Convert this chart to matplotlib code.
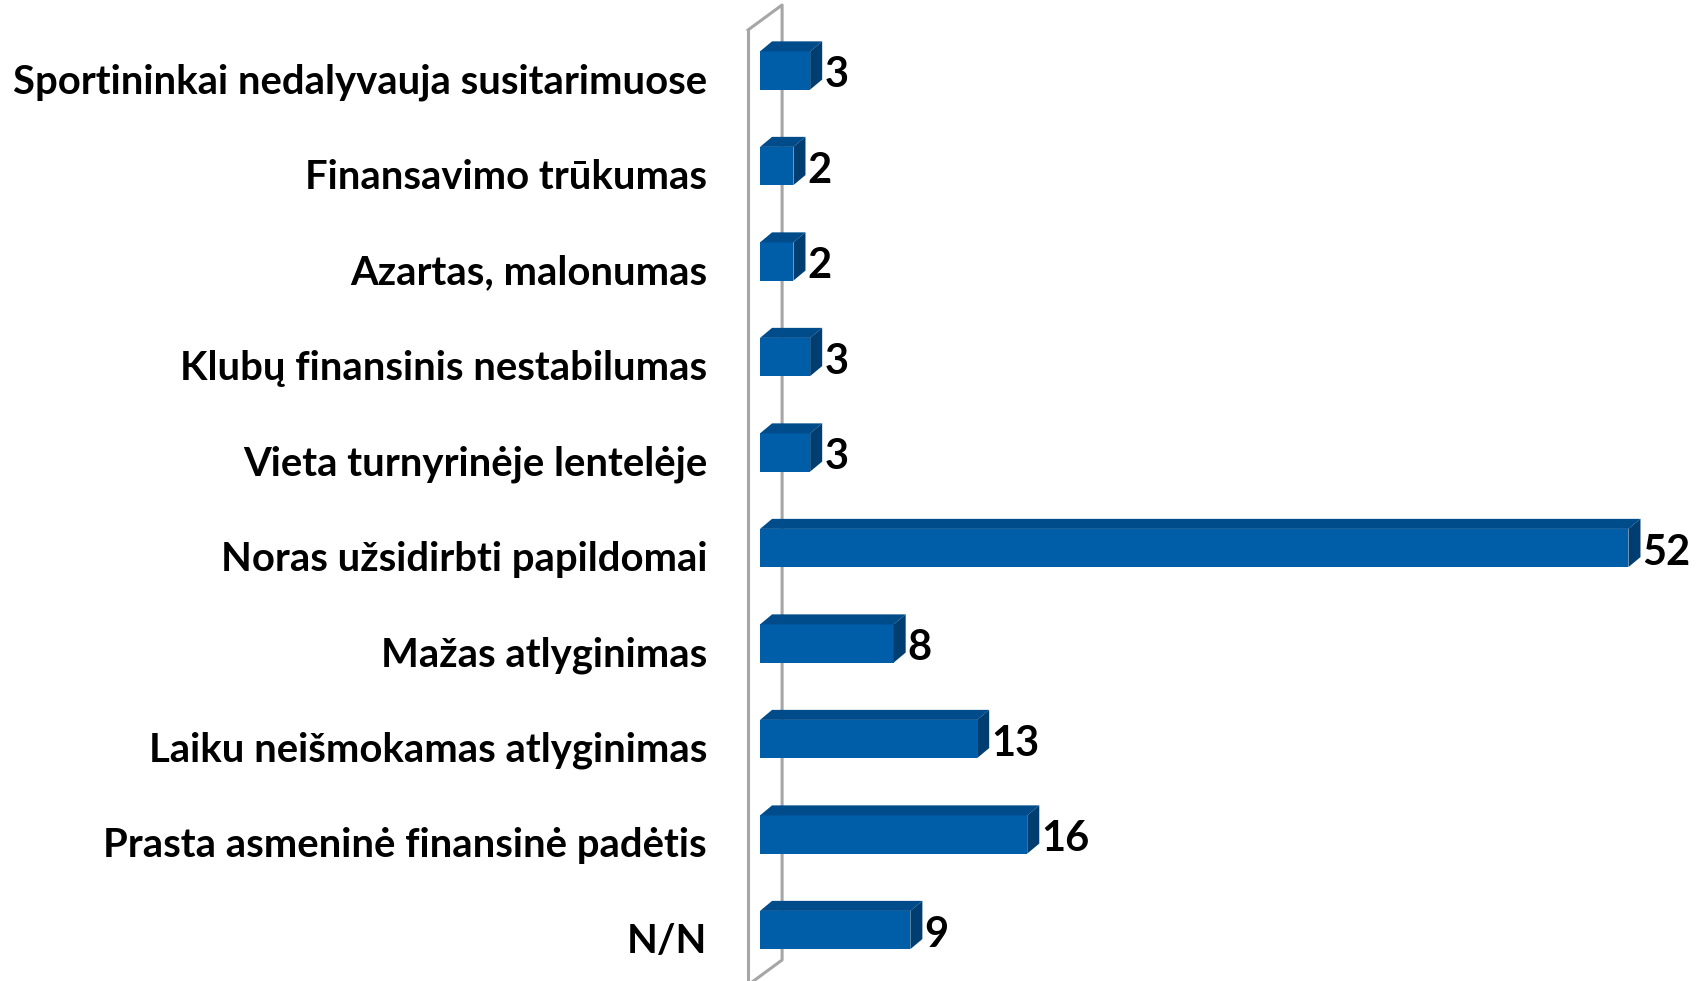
import numpy as np
import matplotlib.pyplot as plt
from matplotlib.patches import Polygon

categories = [
    'Sportininkai nedalyvauja susitarimuose',
    'Finansavimo trūkumas',
    'Azartas, malonumas',
    'Klubų finansinis nestabilumas',
    'Vieta turnyrinėje lentelėje',
    'Noras užsidirbti papildomai',
    'Mažas atlyginimas',
    'Laiku neišmokamas atlyginimas',
    'Prasta asmeninė finansinė padėtis',
    'N/N',
]
values = [3, 2, 2, 3, 3, 52, 8, 13, 16, 9]

FRONT = '#005DA8'
TOP = '#004C8A'
SIDE = '#003D70'

fig = plt.figure(figsize=(17.01, 9.81), dpi=100)
ax = fig.add_axes([735 / 1701, 0, (1701 - 735) / 1701, 1])
ax.set_xlim(-1.5, -1.5 + (1701 - 735) / 16.7)
ax.set_ylim(9.534, -0.738)
ax.axis('off')

# depth of the fake 3d bars, in data units
dx, dy = 0.72, 0.105
h = 0.4

# back wall
wx0, wx1 = -0.72, 1.32
wt0, wt1 = -0.424, -0.686
wb1 = 9.314
ax.plot([wx0, wx1, wx1, wx0], [wt0, wt1, wb1, wb1 + (wt0 - wt1)],
        color='#A6A6A6', lw=2.2, zorder=1)
ax.plot([wx0, wx0], [wt0, 10], color='#A6A6A6', lw=2.2, zorder=1)

y = np.arange(len(categories))
ax.barh(y, values, height=h, color=FRONT, zorder=3)
for yi, v in zip(y, values):
    top = yi - h / 2
    bot = yi + h / 2
    ax.add_patch(Polygon([(0, top), (dx, top - dy), (v + dx, top - dy), (v, top)],
                         closed=True, facecolor=TOP, edgecolor='none', zorder=3))
    ax.add_patch(Polygon([(v, top), (v + dx, top - dy), (v + dx, bot - dy), (v, bot)],
                         closed=True, facecolor=SIDE, edgecolor='none', zorder=3))
    ax.text(v + dx + 0.12, yi + 0.05, str(v), ha='left', va='center',
            fontsize=30, fontweight='bold', family='Lato', color='black', zorder=4)

for yi, lab in zip(y, categories):
    ax.text(-3.17, yi + 0.12, lab, ha='right', va='center', fontsize=28.8,
            fontweight='bold', family='Lato', color='black', clip_on=False)

fig.savefig('out.png', dpi=100)
